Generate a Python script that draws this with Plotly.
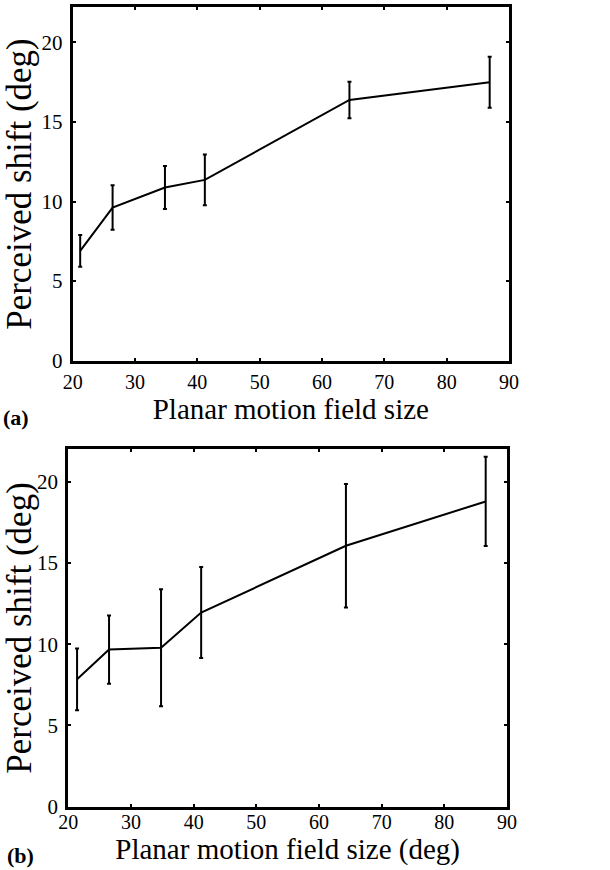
import plotly.graph_objects as go

# ---- data ----
field_size_a = [21.2, 26.4, 34.8, 41.2, 64.4, 86.9]
shift_a = [6.9, 9.62, 10.88, 11.36, 16.38, 17.49]
err_a = [1.0, 1.4, 1.35, 1.6, 1.15, 1.6]

field_size_b = [21.4, 26.5, 34.8, 41.2, 64.3, 86.6]
shift_b = [7.84, 9.67, 9.79, 11.95, 16.06, 18.79]
err_b = [1.9, 2.1, 3.6, 2.8, 3.8, 2.75]

x_ticks = [20, 30, 40, 50, 60, 70, 80, 90]
y_ticks = [0, 5, 10, 15, 20]

W, H = 610, 870
FONT = "Liberation Serif"

def px_x(p):
    return p / W

def px_y(p):
    return 1 - p / H

fig = go.Figure()

for xs, ys, es, xa, ya in [(field_size_a, shift_a, err_a, "x", "y"),
                           (field_size_b, shift_b, err_b, "x2", "y2")]:
    fig.add_trace(go.Scatter(
        x=xs, y=ys, mode="lines",
        line=dict(color="black", width=2),
        error_y=dict(type="data", array=es, visible=True,
                     color="black", thickness=2, width=2),
        xaxis=xa, yaxis=ya, showlegend=False))

axis_common = dict(
    showgrid=False, zeroline=False,
    showline=True, linecolor="black", linewidth=3, mirror="allticks",
    ticks="inside", ticklen=3, tickwidth=2, tickcolor="black",
    automargin=False,
)
xtick_font = dict(family=FONT, size=20, color="black")
ytick_font = dict(family=FONT, size=21, color="black")

fig.update_layout(
    width=W, height=H,
    margin=dict(l=0, r=0, t=0, b=0),
    paper_bgcolor="white", plot_bgcolor="white",
    font=dict(family=FONT, color="black"),
    xaxis=dict(domain=[px_x(72.7), px_x(509)], range=[20, 90],
               tickvals=x_ticks, anchor="y", ticklabelstandoff=1,
               tickfont=xtick_font,
               title=dict(text="Planar motion field size",
                          font=dict(family=FONT, size=29, color="black"),
                          standoff=2),
               **axis_common),
    yaxis=dict(domain=[px_y(360.7), px_y(7.3)], range=[0, 22.2],
               tickvals=y_ticks, anchor="x", ticklabelstandoff=3,
               tickfont=ytick_font,
               title=dict(text="Perceived shift (deg)",
                          font=dict(family=FONT, size=35, color="black"),
                          standoff=4),
               **axis_common),
    xaxis2=dict(domain=[px_x(68.3), px_x(507)], range=[20, 90],
                tickvals=x_ticks, anchor="y2", ticklabelstandoff=-5,
                tickfont=xtick_font,
                title=dict(text="Planar motion field size (deg)",
                           font=dict(family=FONT, size=29, color="black"),
                           standoff=2),
                **axis_common),
    yaxis2=dict(domain=[px_y(806.7), px_y(449.3)], range=[0, 22.0],
                tickvals=y_ticks, anchor="x2", ticklabelstandoff=3,
                tickfont=ytick_font,
                title=dict(text="Perceived shift (deg)",
                           font=dict(family=FONT, size=35, color="black"),
                           standoff=4),
                **axis_common),
    annotations=[
        dict(text="<b>(a)</b>", x=px_x(1), y=px_y(418), xref="paper", yref="paper",
             xanchor="left", yanchor="middle", showarrow=False,
             font=dict(family=FONT, size=22, color="black")),
        dict(text="<b>(b)</b>", x=px_x(5), y=px_y(855), xref="paper", yref="paper",
             xanchor="left", yanchor="middle", showarrow=False,
             font=dict(family=FONT, size=22, color="black")),
    ],
)

fig.write_html("out.html", config={"displayModeBar": False},
               post_script="document.body.style.margin='0';")
